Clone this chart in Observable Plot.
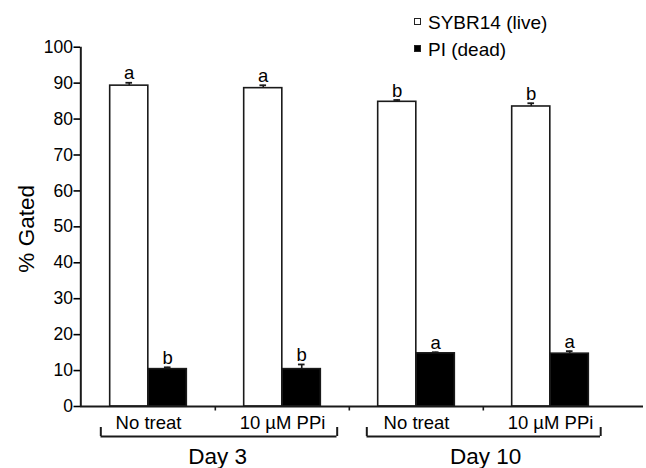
<!DOCTYPE html>
<html><head><meta charset="utf-8">
<script src="https://cdn.jsdelivr.net/npm/d3@7"></script>
<script src="https://cdn.jsdelivr.net/npm/@observablehq/plot@0.6"></script>
<style>
body{margin:0;background:#fff;}
#wrap{position:relative;width:646px;height:468px;font-family:"Liberation Sans",Arial,sans-serif;}
#legend{position:absolute;left:414px;top:9px;font-size:19px;color:#000;}
.row{position:relative;height:27px;line-height:27px;white-space:nowrap;padding-left:14px;}
.sw{position:absolute;left:0;top:9px;width:5px;height:5px;border:1px solid #222;}
</style>
</head><body>
<div id="wrap"><div id="legend"></div></div>
<script>
// ---- data ----
const days = ["Day 3", "Day 3", "Day 10", "Day 10"];
const treatments = ["No treat", "10 µM PPi", "No treat", "10 µM PPi"];
const seriesNames = ["SYBR14 (live)", "PI (dead)"];
const liveValues = [89.3, 88.6, 84.8, 83.5];
const liveErr = [0.8, 0.8, 0.5, 0.9];
const liveLetters = ["a", "a", "b", "b"];
const deadValues = [10.4, 10.4, 14.8, 14.7];
const deadErr = [0.5, 1.3, 0.3, 0.7];
const deadLetters = ["b", "b", "a", "a"];
const yTicks = [0, 10, 20, 30, 40, 50, 60, 70, 80, 90, 100];
const yDomain = [0, 100];

// ---- derived tables ----
const groups = days.map((d, i) => d + " | " + treatments[i]);
const liveRows = groups.map((g, i) => ({group: g, value: liveValues[i], err: liveErr[i], letter: liveLetters[i]}));
const deadRows = groups.map((g, i) => ({group: g, value: deadValues[i], err: deadErr[i], letter: deadLetters[i]}));
const dayNames = Array.from(new Set(days));
const dayGroups = dayNames.map(d => ({day: d, first: groups[days.indexOf(d)], last: groups[days.lastIndexOf(d)]}));

// ---- layout (pixels) ----
const xRange = [80.5, 618];
const step = (xRange[1] - xRange[0]) / groups.length;
const barW = 38.5;
const outer = (step - 2 * barW) / 2;
const capHalf = 3.5;
const font = '"Liberation Sans", Arial, sans-serif';
const bracketInsets = {"Day 3": [19.5, 12.5], "Day 10": [17.5, 17]};

function seriesMarks(rows, offset, fill, insetL, insetR) {
  const c = step / 2 + offset; // center within band
  return [
    Plot.barY(rows, {x: "group", y: "value", fill, stroke: "#1a1a1a", strokeWidth: 1.6, insetLeft: insetL, insetRight: insetR}),
    Plot.ruleX(rows, {x: "group", y1: "value", y2: d => d.value + d.err, dx: offset, stroke: "#1a1a1a", strokeWidth: 1.6}),
    Plot.ruleY(rows, {x1: "group", x2: "group", y: d => d.value + d.err, insetLeft: c - capHalf, insetRight: step - c - capHalf, stroke: "#1a1a1a", strokeWidth: 1.8}),
    Plot.text(rows, {x: "group", y: d => d.value + d.err, text: "letter", dx: offset, dy: -3.5, lineAnchor: "bottom", fontSize: 18.5, fill: "#000"})
  ];
}

const bracketMarks = dayGroups.flatMap(dg => {
  const [iL, iR] = bracketInsets[dg.day];
  return [
    Plot.ruleY([dg], {x1: "first", x2: "last", y: 0, dy: 30, insetLeft: iL, insetRight: iR, strokeWidth: 2, stroke: "#1a1a1a"}),
    Plot.ruleX([dg], {x: "first", y1: 0, y2: 0, dy: 30, dx: -step / 2 + iL, insetTop: -9, strokeWidth: 2, stroke: "#1a1a1a"}),
    Plot.ruleX([dg], {x: "last", y1: 0, y2: 0, dy: 30, dx: step / 2 - iR, insetTop: -9, strokeWidth: 2, stroke: "#1a1a1a"})
  ];
});

const chart = Plot.plot({
  width: 646,
  height: 468,
  marginLeft: 80,
  marginRight: 3,
  marginTop: 46.7,
  marginBottom: 62,
  style: {fontFamily: font, background: "white", color: "black"},
  x: {type: "band", domain: groups, range: xRange, padding: 0, axis: null},
  y: {domain: yDomain},
  marks: [
    ...seriesMarks(liveRows, -barW / 2, "white", outer, step - outer - barW),
    ...seriesMarks(deadRows, barW / 2, "black", outer + barW, outer),
    Plot.ruleY([0], {strokeWidth: 2, stroke: "#1a1a1a"}),
    Plot.ruleX([groups[0]], {x: d => d, y1: yDomain[0], y2: yDomain[1], dx: -step / 2 - 0.5, strokeWidth: 2, stroke: "#1a1a1a"}),
    Plot.ruleX(groups.slice(1), {x: d => d, y1: 0, y2: 0, dx: -step / 2, insetBottom: -4.5, strokeWidth: 1.6, stroke: "#1a1a1a"}),
    Plot.axisY({ticks: yTicks, tickSize: 6.5, tickPadding: 1, fontSize: 17.5, label: null, strokeWidth: 1.6}),
    Plot.text(groups, {x: d => d, y: 0, text: (d, i) => treatments[i], dy: 22, lineAnchor: "bottom", fontSize: 18.5, fill: "#000"}),
    ...bracketMarks,
    Plot.text(dayGroups, {x: "first", y: 0, text: "day", dx: step / 2 + 2, dy: 57, lineAnchor: "bottom", fontSize: 22.5, fill: "#000"}),
    Plot.text(["% Gated"], {frameAnchor: "left", text: d => d, textAnchor: "middle", dx: -53.5, dy: 2, rotate: -90, fontSize: 22.5, fill: "#000"})
  ]
});

const wrap = document.getElementById("wrap");
wrap.insertBefore(chart, wrap.firstChild);

const legend = document.getElementById("legend");
const swFill = ["white", "black"];
seriesNames.forEach((name, i) => {
  const row = document.createElement("div");
  row.className = "row";
  const sw = document.createElement("span");
  sw.className = "sw";
  sw.style.background = swFill[i];
  row.appendChild(sw);
  row.appendChild(document.createTextNode(name));
  legend.appendChild(row);
});
</script>
</body></html>
